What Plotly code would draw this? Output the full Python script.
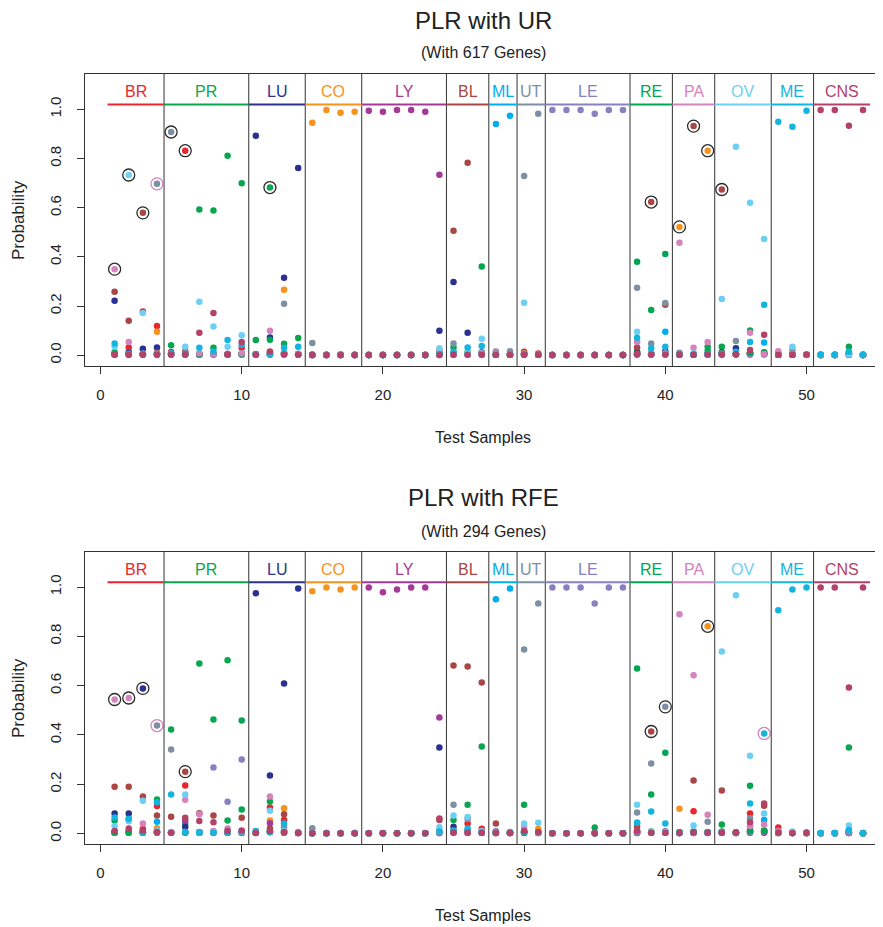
import plotly.graph_objects as go

# ---------------- data ----------------
CLASSES = ["BR", "PR", "LU", "CO", "LY", "BL", "ML", "UT", "LE", "RE", "PA", "OV", "ME", "CNS"]
GROUP_SIZES = [4, 6, 4, 4, 6, 3, 2, 2, 6, 3, 3, 4, 3, 4]
COLORS = ["#E8262C", "#0AA64F", "#2B3191", "#F6921E", "#A5399A", "#A84745", "#00AEEF",
          "#7D8FA3", "#8781C1", "#00A651", "#D583BC", "#6CCFF6", "#13B5DE", "#B34168"]
SAMPLES = list(range(1, 55))
X_TICKS = [0, 10, 20, 30, 40, 50]
Y_TICKS = [0.0, 0.2, 0.4, 0.6, 0.8, 1.0]
Y_TICK_TEXT = ["0.0", "0.2", "0.4", "0.6", "0.8", "1.0"]

# PLR with UR (617 genes)
BR_UR = [0.005, 0.031, 0.178, 0.119,
         0.013, 0.832, 0.004, 0.006, 0.003, 0.030,
         0.004, 0.003, 0.006, 0.004,
         0.002, 0.001, 0.001, 0.001,
         0.001, 0.001, 0.001, 0.001, 0.001, 0.004,
         0.005, 0.006, 0.008,
         0.003, 0.003,
         0.014, 0.007,
         0.001, 0.001, 0.001, 0.001, 0.001, 0.001,
         0.010, 0.004, 0.006,
         0.003, 0.002, 0.004,
         0.004, 0.005, 0.008, 0.012,
         0.002, 0.003, 0.002,
         0.001, 0.001, 0.003, 0.001]
PR_UR = [0.012, 0.012, 0.004, 0.005,
         0.040, 0.010, 0.593, 0.589, 0.811, 0.700,
         0.062, 0.682, 0.047, 0.070,
         0.002, 0.001, 0.001, 0.001,
         0.001, 0.001, 0.001, 0.001, 0.001, 0.010,
         0.031, 0.012, 0.012,
         0.002, 0.002,
         0.006, 0.002,
         0.001, 0.001, 0.001, 0.001, 0.001, 0.001,
         0.015, 0.010, 0.008,
         0.003, 0.004, 0.034,
         0.034, 0.004, 0.100, 0.010,
         0.002, 0.002, 0.002,
         0.002, 0.002, 0.034, 0.002]
LU_UR = [0.221, 0.010, 0.026, 0.031,
         0.005, 0.004, 0.003, 0.004, 0.003, 0.006,
         0.893, 0.072, 0.315, 0.762,
         0.001, 0.001, 0.001, 0.001,
         0.001, 0.001, 0.001, 0.001, 0.001, 0.099,
         0.298, 0.091, 0.006,
         0.002, 0.002,
         0.004, 0.002,
         0.001, 0.001, 0.001, 0.001, 0.001, 0.001,
         0.010, 0.006, 0.015,
         0.002, 0.002, 0.004,
         0.012, 0.028, 0.008, 0.006,
         0.002, 0.002, 0.002,
         0.001, 0.001, 0.004, 0.001]
CO_UR = [0.004, 0.004, 0.004, 0.095,
         0.003, 0.003, 0.003, 0.003, 0.003, 0.003,
         0.003, 0.004, 0.266, 0.004,
         0.946, 0.998, 0.986, 0.990,
         0.001, 0.001, 0.001, 0.001, 0.001, 0.003,
         0.003, 0.004, 0.004,
         0.002, 0.002,
         0.008, 0.003,
         0.001, 0.001, 0.001, 0.001, 0.001, 0.001,
         0.004, 0.004, 0.004,
         0.522, 0.005, 0.832,
         0.004, 0.004, 0.005, 0.005,
         0.002, 0.002, 0.002,
         0.001, 0.001, 0.002, 0.001]
LY_UR = [0.003, 0.003, 0.003, 0.003,
         0.003, 0.003, 0.003, 0.003, 0.003, 0.003,
         0.002, 0.003, 0.003, 0.002,
         0.001, 0.001, 0.001, 0.001,
         0.994, 0.990, 0.998, 0.998, 0.990, 0.734,
         0.003, 0.003, 0.003,
         0.002, 0.002,
         0.002, 0.002,
         0.001, 0.001, 0.001, 0.001, 0.001, 0.001,
         0.003, 0.003, 0.003,
         0.002, 0.002, 0.002,
         0.003, 0.003, 0.003, 0.003,
         0.002, 0.002, 0.002,
         0.001, 0.001, 0.002, 0.001]
BL_UR = [0.258, 0.140, 0.579, 0.010,
         0.005, 0.015, 0.004, 0.005, 0.004, 0.005,
         0.003, 0.012, 0.006, 0.004,
         0.001, 0.001, 0.001, 0.001,
         0.001, 0.001, 0.001, 0.001, 0.001, 0.012,
         0.506, 0.783, 0.008,
         0.002, 0.002,
         0.004, 0.002,
         0.001, 0.001, 0.001, 0.001, 0.001, 0.001,
         0.031, 0.623, 0.205,
         0.003, 0.932, 0.005,
         0.674, 0.004, 0.006, 0.006,
         0.002, 0.002, 0.002,
         0.001, 0.001, 0.003, 0.001]
ML_UR = [0.005, 0.004, 0.003, 0.003,
         0.006, 0.004, 0.004, 0.005, 0.004, 0.004,
         0.004, 0.004, 0.008, 0.005,
         0.001, 0.001, 0.001, 0.001,
         0.001, 0.001, 0.001, 0.001, 0.001, 0.005,
         0.006, 0.010, 0.010,
         0.941, 0.974,
         0.006, 0.002,
         0.001, 0.001, 0.001, 0.001, 0.001, 0.001,
         0.004, 0.004, 0.095,
         0.002, 0.002, 0.003,
         0.004, 0.006, 0.005, 0.052,
         0.003, 0.003, 0.002,
         0.002, 0.002, 0.006, 0.002]
UT_UR = [0.005, 0.005, 0.005, 0.697,
         0.908, 0.006, 0.005, 0.005, 0.005, 0.006,
         0.004, 0.006, 0.209, 0.005,
         0.050, 0.002, 0.002, 0.002,
         0.002, 0.002, 0.002, 0.002, 0.002, 0.006,
         0.048, 0.006, 0.006,
         0.015, 0.016,
         0.729, 0.982,
         0.001, 0.001, 0.001, 0.001, 0.001, 0.001,
         0.274, 0.048, 0.212,
         0.010, 0.004, 0.004,
         0.006, 0.058, 0.006, 0.006,
         0.008, 0.021, 0.002,
         0.001, 0.001, 0.002, 0.001]
LE_UR = [0.003, 0.003, 0.003, 0.003,
         0.003, 0.003, 0.003, 0.003, 0.003, 0.003,
         0.003, 0.003, 0.003, 0.003,
         0.001, 0.001, 0.001, 0.001,
         0.001, 0.001, 0.001, 0.001, 0.001, 0.001,
         0.003, 0.003, 0.003,
         0.002, 0.002,
         0.002, 0.002,
         0.998, 0.998, 0.998, 0.982, 0.998, 0.998,
         0.004, 0.003, 0.008,
         0.002, 0.002, 0.003,
         0.008, 0.004, 0.004, 0.006,
         0.002, 0.002, 0.002,
         0.001, 0.001, 0.003, 0.001]
RE_UR = [0.004, 0.004, 0.004, 0.004,
         0.005, 0.004, 0.004, 0.030, 0.004, 0.006,
         0.004, 0.063, 0.010, 0.004,
         0.002, 0.002, 0.002, 0.002,
         0.001, 0.001, 0.001, 0.001, 0.001, 0.004,
         0.008, 0.006, 0.361,
         0.002, 0.002,
         0.004, 0.002,
         0.001, 0.001, 0.001, 0.001, 0.001, 0.001,
         0.380, 0.184, 0.412,
         0.003, 0.003, 0.018,
         0.008, 0.004, 0.010, 0.010,
         0.002, 0.002, 0.002,
         0.001, 0.001, 0.012, 0.001]
PA_UR = [0.350, 0.054, 0.006, 0.006,
         0.005, 0.006, 0.008, 0.005, 0.006, 0.008,
         0.004, 0.099, 0.006, 0.005,
         0.002, 0.002, 0.005, 0.002,
         0.002, 0.002, 0.002, 0.002, 0.002, 0.020,
         0.006, 0.005, 0.008,
         0.008, 0.004,
         0.004, 0.002,
         0.001, 0.001, 0.001, 0.001, 0.001, 0.001,
         0.054, 0.005, 0.005,
         0.457, 0.030, 0.054,
         0.006, 0.005, 0.091, 0.005,
         0.016, 0.004, 0.002,
         0.002, 0.002, 0.006, 0.002]
OV_UR = [0.035, 0.733, 0.172, 0.005,
         0.006, 0.034, 0.217, 0.117, 0.034, 0.081,
         0.004, 0.006, 0.012, 0.006,
         0.001, 0.001, 0.001, 0.001,
         0.001, 0.001, 0.001, 0.001, 0.001, 0.028,
         0.006, 0.010, 0.067,
         0.002, 0.002,
         0.213, 0.002,
         0.001, 0.001, 0.001, 0.001, 0.001, 0.001,
         0.095, 0.006, 0.006,
         0.002, 0.008, 0.003,
         0.229, 0.848, 0.620, 0.473,
         0.004, 0.034, 0.002,
         0.001, 0.001, 0.004, 0.001]
ME_UR = [0.048, 0.006, 0.006, 0.005,
         0.008, 0.006, 0.030, 0.015, 0.062, 0.041,
         0.005, 0.004, 0.030, 0.034,
         0.001, 0.001, 0.001, 0.001,
         0.001, 0.001, 0.001, 0.001, 0.001, 0.005,
         0.014, 0.031, 0.037,
         0.003, 0.003,
         0.004, 0.002,
         0.001, 0.001, 0.001, 0.001, 0.001, 0.001,
         0.071, 0.028, 0.034,
         0.002, 0.004, 0.005,
         0.005, 0.014, 0.054, 0.205,
         0.950, 0.929, 0.994,
         0.002, 0.002, 0.014, 0.002]
CNS_UR = [0.002, 0.002, 0.002, 0.002,
          0.003, 0.003, 0.091, 0.172, 0.004, 0.054,
          0.002, 0.015, 0.004, 0.003,
          0.001, 0.001, 0.001, 0.001,
          0.001, 0.001, 0.001, 0.001, 0.001, 0.001,
          0.002, 0.002, 0.002,
          0.002, 0.002,
          0.002, 0.002,
          0.001, 0.001, 0.001, 0.001, 0.001, 0.001,
          0.004, 0.003, 0.003,
          0.002, 0.002, 0.003,
          0.003, 0.004, 0.021, 0.083,
          0.002, 0.002, 0.002,
          0.998, 0.998, 0.933, 0.998]

# PLR with RFE (294 genes)
BR_RFE = [0.006, 0.006, 0.018, 0.112,
          0.004, 0.195, 0.004, 0.006, 0.004, 0.006,
          0.003, 0.105, 0.055, 0.002,
          0.001, 0.001, 0.001, 0.001,
          0.001, 0.001, 0.001, 0.001, 0.001, 0.006,
          0.006, 0.040, 0.019,
          0.003, 0.002,
          0.005, 0.004,
          0.001, 0.001, 0.001, 0.001, 0.001, 0.001,
          0.006, 0.004, 0.004,
          0.002, 0.090, 0.004,
          0.004, 0.002, 0.081, 0.012,
          0.024, 0.003, 0.004,
          0.001, 0.001, 0.003, 0.001]
PR_RFE = [0.053, 0.060, 0.006, 0.138,
          0.422, 0.040, 0.690, 0.463, 0.703, 0.459,
          0.004, 0.130, 0.010, 0.002,
          0.001, 0.001, 0.001, 0.001,
          0.001, 0.001, 0.001, 0.001, 0.001, 0.006,
          0.055, 0.117, 0.353,
          0.004, 0.003,
          0.117, 0.006,
          0.001, 0.001, 0.001, 0.024, 0.001, 0.001,
          0.010, 0.008, 0.006,
          0.005, 0.008, 0.004,
          0.036, 0.003, 0.194, 0.010,
          0.004, 0.002, 0.002,
          0.001, 0.001, 0.349, 0.001]
LU_RFE = [0.081, 0.081, 0.589, 0.008,
          0.004, 0.027, 0.004, 0.006, 0.004, 0.003,
          0.975, 0.235, 0.609, 0.995,
          0.001, 0.001, 0.001, 0.001,
          0.001, 0.001, 0.001, 0.001, 0.001, 0.349,
          0.027, 0.010, 0.004,
          0.008, 0.003,
          0.008, 0.004,
          0.001, 0.001, 0.001, 0.001, 0.001, 0.001,
          0.002, 0.004, 0.008,
          0.002, 0.003, 0.004,
          0.006, 0.002, 0.012, 0.006,
          0.006, 0.002, 0.002,
          0.001, 0.001, 0.002, 0.001]
CO_RFE = [0.004, 0.004, 0.004, 0.021,
          0.003, 0.003, 0.003, 0.003, 0.003, 0.003,
          0.003, 0.053, 0.102, 0.002,
          0.983, 0.999, 0.991, 0.999,
          0.001, 0.001, 0.001, 0.001, 0.001, 0.003,
          0.004, 0.004, 0.004,
          0.002, 0.002,
          0.004, 0.018,
          0.001, 0.001, 0.001, 0.001, 0.001, 0.001,
          0.004, 0.003, 0.003,
          0.100, 0.004, 0.841,
          0.003, 0.005, 0.004, 0.004,
          0.002, 0.002, 0.002,
          0.001, 0.001, 0.002, 0.001]
LY_RFE = [0.003, 0.003, 0.003, 0.003,
          0.003, 0.053, 0.003, 0.003, 0.003, 0.003,
          0.002, 0.041, 0.003, 0.002,
          0.001, 0.001, 0.001, 0.001,
          0.999, 0.979, 0.991, 0.999, 0.999, 0.471,
          0.003, 0.003, 0.003,
          0.002, 0.002,
          0.002, 0.002,
          0.001, 0.001, 0.001, 0.001, 0.001, 0.001,
          0.003, 0.003, 0.003,
          0.002, 0.002, 0.002,
          0.003, 0.003, 0.003, 0.003,
          0.002, 0.002, 0.002,
          0.001, 0.001, 0.002, 0.001]
BL_RFE = [0.190, 0.190, 0.150, 0.073,
          0.068, 0.251, 0.082, 0.073, 0.006, 0.064,
          0.003, 0.020, 0.078, 0.003,
          0.001, 0.001, 0.001, 0.001,
          0.001, 0.001, 0.001, 0.001, 0.001, 0.055,
          0.682, 0.678, 0.613,
          0.040, 0.002,
          0.004, 0.003,
          0.001, 0.001, 0.001, 0.001, 0.001, 0.001,
          0.027, 0.414, 0.006,
          0.003, 0.215, 0.004,
          0.174, 0.003, 0.030, 0.113,
          0.004, 0.002, 0.002,
          0.001, 0.001, 0.004, 0.001]
ML_RFE = [0.006, 0.010, 0.003, 0.048,
          0.004, 0.006, 0.004, 0.004, 0.004, 0.005,
          0.010, 0.005, 0.006, 0.003,
          0.001, 0.001, 0.001, 0.001,
          0.001, 0.001, 0.001, 0.001, 0.001, 0.004,
          0.010, 0.012, 0.006,
          0.951, 0.995,
          0.006, 0.004,
          0.001, 0.001, 0.001, 0.001, 0.001, 0.001,
          0.044, 0.004, 0.006,
          0.002, 0.003, 0.003,
          0.004, 0.002, 0.008, 0.055,
          0.003, 0.003, 0.002,
          0.002, 0.002, 0.004, 0.002]
UT_RFE = [0.006, 0.006, 0.006, 0.438,
          0.341, 0.006, 0.005, 0.006, 0.005, 0.006,
          0.004, 0.006, 0.024, 0.005,
          0.021, 0.002, 0.002, 0.002,
          0.002, 0.002, 0.002, 0.002, 0.002, 0.008,
          0.117, 0.059, 0.006,
          0.008, 0.006,
          0.747, 0.934,
          0.001, 0.001, 0.001, 0.001, 0.001, 0.001,
          0.085, 0.284, 0.514,
          0.004, 0.006, 0.048,
          0.006, 0.004, 0.062, 0.010,
          0.008, 0.004, 0.002,
          0.001, 0.001, 0.004, 0.001]
LE_RFE = [0.003, 0.003, 0.003, 0.003,
          0.003, 0.004, 0.006, 0.268, 0.129, 0.300,
          0.003, 0.006, 0.003, 0.003,
          0.001, 0.001, 0.001, 0.001,
          0.001, 0.001, 0.001, 0.001, 0.001, 0.001,
          0.010, 0.004, 0.003,
          0.008, 0.002,
          0.008, 0.004,
          0.999, 0.999, 0.999, 0.934, 0.999, 0.999,
          0.004, 0.004, 0.008,
          0.002, 0.003, 0.003,
          0.003, 0.003, 0.006, 0.008,
          0.002, 0.002, 0.002,
          0.001, 0.001, 0.003, 0.001]
RE_RFE = [0.004, 0.004, 0.004, 0.004,
          0.005, 0.004, 0.004, 0.006, 0.053, 0.097,
          0.004, 0.010, 0.004, 0.002,
          0.002, 0.002, 0.002, 0.002,
          0.001, 0.001, 0.001, 0.001, 0.001, 0.004,
          0.008, 0.006, 0.004,
          0.002, 0.002,
          0.004, 0.002,
          0.001, 0.001, 0.001, 0.001, 0.001, 0.001,
          0.670, 0.158, 0.328,
          0.005, 0.006, 0.006,
          0.008, 0.004, 0.010, 0.010,
          0.002, 0.002, 0.002,
          0.001, 0.001, 0.012, 0.001]
PA_RFE = [0.544, 0.550, 0.040, 0.006,
          0.005, 0.137, 0.078, 0.010, 0.020, 0.006,
          0.004, 0.150, 0.006, 0.002,
          0.002, 0.002, 0.002, 0.002,
          0.002, 0.002, 0.002, 0.002, 0.002, 0.006,
          0.006, 0.005, 0.004,
          0.004, 0.002,
          0.024, 0.002,
          0.001, 0.001, 0.001, 0.001, 0.001, 0.001,
          0.010, 0.006, 0.004,
          0.890, 0.642, 0.076,
          0.006, 0.003, 0.030, 0.036,
          0.010, 0.004, 0.002,
          0.002, 0.002, 0.012, 0.002]
OV_RFE = [0.029, 0.050, 0.133, 0.010,
          0.006, 0.158, 0.004, 0.006, 0.010, 0.008,
          0.004, 0.092, 0.010, 0.002,
          0.001, 0.001, 0.001, 0.001,
          0.001, 0.001, 0.001, 0.001, 0.001, 0.025,
          0.073, 0.067, 0.010,
          0.002, 0.002,
          0.040, 0.044,
          0.001, 0.001, 0.001, 0.001, 0.001, 0.001,
          0.117, 0.006, 0.006,
          0.002, 0.032, 0.004,
          0.739, 0.967, 0.316, 0.081,
          0.004, 0.008, 0.002,
          0.001, 0.001, 0.032, 0.001]
ME_RFE = [0.065, 0.060, 0.004, 0.127,
          0.158, 0.006, 0.004, 0.004, 0.004, 0.008,
          0.008, 0.006, 0.040, 0.003,
          0.001, 0.001, 0.001, 0.001,
          0.001, 0.001, 0.001, 0.001, 0.001, 0.008,
          0.012, 0.020, 0.004,
          0.003, 0.005,
          0.006, 0.004,
          0.001, 0.001, 0.001, 0.001, 0.001, 0.001,
          0.044, 0.089, 0.040,
          0.002, 0.004, 0.005,
          0.005, 0.004, 0.122, 0.406,
          0.906, 0.991, 0.999,
          0.002, 0.002, 0.014, 0.002]
CNS_RFE = [0.010, 0.020, 0.012, 0.006,
           0.003, 0.064, 0.051, 0.046, 0.010, 0.012,
           0.002, 0.010, 0.006, 0.002,
           0.001, 0.001, 0.001, 0.001,
           0.001, 0.001, 0.001, 0.001, 0.001, 0.061,
           0.004, 0.003, 0.003,
           0.002, 0.002,
           0.010, 0.006,
           0.001, 0.001, 0.001, 0.001, 0.001, 0.001,
           0.010, 0.003, 0.003,
           0.002, 0.005, 0.003,
           0.003, 0.004, 0.046, 0.122,
           0.004, 0.002, 0.002,
           0.999, 0.999, 0.593, 0.999]

UR_SERIES = [BR_UR, PR_UR, LU_UR, CO_UR, LY_UR, BL_UR, ML_UR, UT_UR, LE_UR, RE_UR, PA_UR, OV_UR, ME_UR, CNS_UR]
RFE_SERIES = [BR_RFE, PR_RFE, LU_RFE, CO_RFE, LY_RFE, BL_RFE, ML_RFE, UT_RFE, LE_RFE, RE_RFE, PA_RFE, OV_RFE, ME_RFE, CNS_RFE]

# circled (mis-predicted) points: sample, class, ring kind
UR_RING_SAMPLE = [1, 2, 3, 4, 5, 6, 12, 39, 41, 42, 43, 44]
UR_RING_CLASS = ["PA", "OV", "BL", "UT", "UT", "BR", "PR", "BL", "CO", "BL", "CO", "BL"]
UR_RING_KIND = ["k", "k", "k", "p", "k", "k", "k", "k", "k", "k", "k", "k"]
RFE_RING_SAMPLE = [1, 2, 3, 4, 6, 39, 40, 43, 47]
RFE_RING_CLASS = ["PA", "PA", "LU", "UT", "BL", "BL", "UT", "CO", "ME"]
RFE_RING_KIND = ["k", "k", "k", "p", "k", "k", "k", "k", "p"]

for s in UR_SERIES + RFE_SERIES:
    assert len(s) == 54

# ---------------- layout helpers ----------------
# the page body adds an 8px margin; positions below are in window pixels
OFF = 8
WIN_W, WIN_H = 883, 927
W, H = WIN_W - OFF, WIN_H - OFF


def px(xw):
    return (xw - OFF) / W


def py(yw):
    return 1 - (yw - OFF) / H


FONT = "Liberation Sans, Arial, Helvetica, sans-serif"
TXT = "#222222"
PX_L, PX_R = 85.3, 881.5
PANELS = [
    dict(series=UR_SERIES, ring=(UR_RING_SAMPLE, UR_RING_CLASS, UR_RING_KIND),
         top=74.0, bot=366.0, title="PLR with UR", sub="(With 617 Genes)",
         title_y=20, sub_y=52, xlab_y=437),
    dict(series=RFE_SERIES, ring=(RFE_RING_SAMPLE, RFE_RING_CLASS, RFE_RING_KIND),
         top=551.7, bot=844.3, title="PLR with RFE", sub="(With 294 Genes)",
         title_y=497, sub_y=531, xlab_y=915),
]
XR = [-1.076, 55.31]
YR = [-0.044, 1.144]

fig = go.Figure()
shapes, annotations = [], []

bounds = [0.5]
for g in GROUP_SIZES:
    bounds.append(bounds[-1] + g)

for pi, P in enumerate(PANELS):
    xa = "x" if pi == 0 else "x2"
    ya = "y" if pi == 0 else "y2"
    for ci, cname in enumerate(CLASSES):
        fig.add_trace(go.Scatter(
            x=SAMPLES, y=P["series"][ci], mode="markers", xaxis=xa, yaxis=ya,
            marker=dict(size=6.5, color=COLORS[ci], line=dict(width=0)),
            name=cname, showlegend=False, hoverinfo="skip"))
    rs, rc, rk = P["ring"]
    ry = [P["series"][CLASSES.index(c)][s - 1] for s, c in zip(rs, rc)]
    rcol = ["#2a2a2a" if k == "k" else COLORS[CLASSES.index("PA")] for k in rk]
    fig.add_trace(go.Scatter(
        x=rs, y=ry, mode="markers", xaxis=xa, yaxis=ya,
        marker=dict(symbol="circle-open", size=12, color=rcol, line=dict(width=1.3, color=rcol)),
        showlegend=False, hoverinfo="skip"))
    for b in bounds[1:-1]:
        shapes.append(dict(type="line", xref=xa, yref=ya + " domain", x0=b, x1=b, y0=0, y1=1,
                           line=dict(color="#333333", width=1)))
    for ci, cname in enumerate(CLASSES):
        x0, x1 = bounds[ci], bounds[ci + 1]
        shapes.append(dict(type="line", xref=xa, yref=ya, x0=x0, x1=x1, y0=1.02, y1=1.02,
                           line=dict(color=COLORS[ci], width=2)))
        annotations.append(dict(x=(x0 + x1) / 2, y=1.072, xref=xa, yref=ya, text=cname,
                                showarrow=False, xanchor="center", yanchor="middle",
                                font=dict(family=FONT, size=16, color=COLORS[ci])))
    cx = px((PX_L + PX_R) / 2)
    annotations.append(dict(x=cx, y=py(P["title_y"]), xref="paper", yref="paper", text=P["title"],
                            showarrow=False, xanchor="center", yanchor="middle",
                            font=dict(family=FONT, size=24, color=TXT)))
    annotations.append(dict(x=cx, y=py(P["sub_y"]), xref="paper", yref="paper", text=P["sub"],
                            showarrow=False, xanchor="center", yanchor="middle",
                            font=dict(family=FONT, size=16, color=TXT)))
    annotations.append(dict(x=cx, y=py(P["xlab_y"]), xref="paper", yref="paper", text="Test Samples",
                            showarrow=False, xanchor="center", yanchor="middle",
                            font=dict(family=FONT, size=16, color=TXT)))
    annotations.append(dict(x=px(18), y=py((P["top"] + P["bot"]) / 2), xref="paper", yref="paper",
                            text="Probability", textangle=-90, showarrow=False,
                            xanchor="center", yanchor="middle",
                            font=dict(family=FONT, size=17, color=TXT)))

    ydom = [py(P["bot"]), py(P["top"])]
    xaxis = dict(domain=[px(PX_L), px(PX_R)], range=XR, tickvals=X_TICKS,
                 ticktext=[str(v) for v in X_TICKS], ticks="outside", ticklen=7, tickwidth=1,
                 tickcolor="#333333", showline=True, linecolor="#333333", linewidth=1, mirror=True,
                 showgrid=False, zeroline=False, ticklabelstandoff=8,
                 tickfont=dict(family=FONT, size=15, color=TXT), anchor=ya)
    yaxis = dict(domain=ydom, range=YR, tickvals=Y_TICKS, ticktext=Y_TICK_TEXT, tickangle=-90,
                 ticks="outside", ticklen=7, tickwidth=1, tickcolor="#333333", showline=True,
                 linecolor="#333333", linewidth=1, mirror=True, showgrid=False, zeroline=False,
                 ticklabelstandoff=10, tickfont=dict(family=FONT, size=15, color=TXT), anchor=xa)
    if pi == 0:
        fig.update_layout(xaxis=xaxis, yaxis=yaxis)
    else:
        fig.update_layout(xaxis2=xaxis, yaxis2=yaxis)

fig.update_layout(width=W, height=H, margin=dict(l=0, r=0, t=0, b=0),
                  paper_bgcolor="white", plot_bgcolor="white",
                  shapes=shapes, annotations=annotations, showlegend=False)

fig.write_html("out.html")
